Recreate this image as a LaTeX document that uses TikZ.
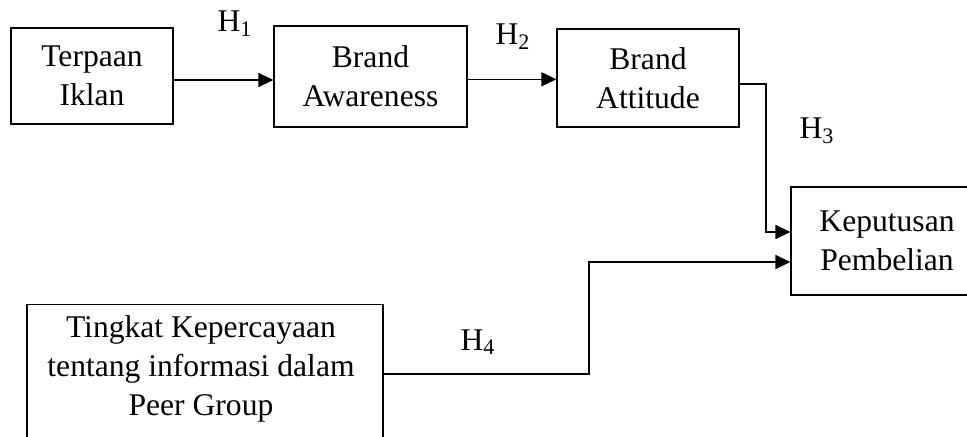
\documentclass[tikz,border=0pt]{standalone}
\usepackage{fontspec}
\setmainfont{Liberation Serif}
\usetikzlibrary{arrows.meta,calc}

\begin{document}
\begin{tikzpicture}[
		x=0.5pt,
		y=-0.5pt,
		font=\fontsize{15.8}{19.5}\selectfont,
		>={Triangle[length=7.5pt,width=7pt]},
		line width=0.6pt,
		box/.style={draw, inner sep=0pt, align=center},
		hyp/.style={inner sep=0pt}
		]
		\useasboundingbox (0,0) rectangle (967,437);
		
		% variable boxes
		\node[box, minimum width=81pt, minimum height=48pt] (terpaan) at (92,76) {Terpaan\\Iklan};
		\node[box, minimum width=96.5pt, minimum height=50.5pt] (aware) at (370.5,76.5) {Brand\\Awareness};
		\node[box, minimum width=91pt, minimum height=49pt] (attit) at (648,78) {Brand\\Attitude};
		\node[box, minimum width=96pt, minimum height=54pt] (keput) at (887,241) {Keputusan\\Pembelian};
		
		% peer group box (runs off the bottom edge)
		\node[draw, inner sep=0pt, minimum width=178pt, minimum height=80pt, anchor=north] (peer) at (205,304) {};
		\node[align=center, inner sep=0pt] (peertxt) at (201,369)
		{Tingkat Kepercayaan\\tentang informasi dalam\\Peer Group};
		
		% hypotheses
		\node[hyp] (h1) at (235,24) {H\textsubscript{1}};
		\node[hyp] (h2) at (513,37) {H\textsubscript{2}};
		\node[hyp] (h3) at (817,131) {H\textsubscript{3}};
		\node[hyp] (h4) at (478,342) {H\textsubscript{4}};
		
		% arrows
		\draw[->] ([yshift=-2pt]terpaan.east) -- ([yshift=-2pt]terpaan.east -| aware.west);
		\draw[->] ([yshift=-1.4pt]aware.east) -- ([yshift=-1.4pt]aware.east -| attit.west);
		\draw[->] ([yshift=-3pt]attit.east) -| (766,232) -- (766,232 -| keput.west);
		\draw[->] (peer.east |- 0,374) -| (589,262) -- (589,262 -| keput.west);
		
	\end{tikzpicture}
\end{document}
